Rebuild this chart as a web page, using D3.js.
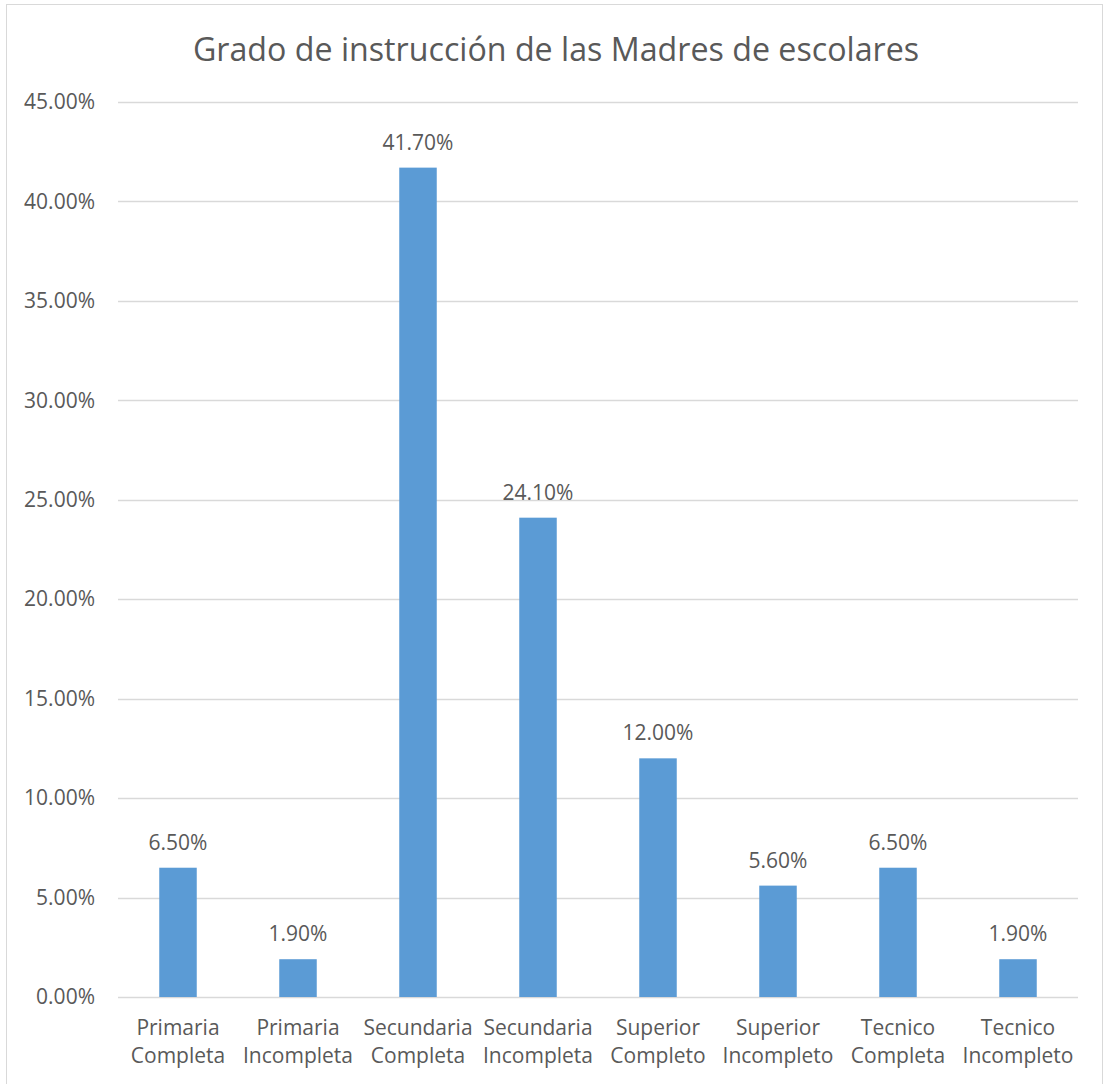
<!DOCTYPE html>
<html><head><meta charset="utf-8">
<script src="https://cdn.jsdelivr.net/npm/d3@7"></script>
<style>
html,body{margin:0;padding:0;background:#fff;}
svg{display:block;}
text{font-family:"Open Sans",sans-serif;fill:#595959;}
</style></head>
<body>
<script>
const title = "Grado de instrucción de las Madres de escolares";
const categories = [
  ["Primaria","Completa"],["Primaria","Incompleta"],["Secundaria","Completa"],["Secundaria","Incompleta"],
  ["Superior","Completo"],["Superior","Incompleto"],["Tecnico","Completa"],["Tecnico","Incompleto"]
];
const values = [6.5, 1.9, 41.7, 24.1, 12.0, 5.6, 6.5, 1.9];
const yTicks = [0,5,10,15,20,25,30,35,40,45];

const W = 1104, H = 1084;
const svg = d3.select("body").append("svg").attr("width", W).attr("height", H);
svg.append("rect").attr("x",6.5).attr("y",4.5).attr("width",1096).attr("height",1090)
  .attr("fill","#fff").attr("stroke","#d9d9d9").attr("stroke-width",1);

const x0 = 118, x1 = 1078, yTop = 102, yBot = 997;
const x = d3.scaleBand().domain(d3.range(categories.length)).range([x0,x1]).paddingInner(0.6875).paddingOuter(0.34375);
const y = d3.scaleLinear().domain([0,45]).range([yBot,yTop]);

svg.append("text").attr("x",556).attr("y",61).attr("text-anchor","middle")
  .style("font-size","32.2px").text(title);

const grid = svg.append("g");
grid.selectAll("line").data(yTicks).join("line")
  .attr("x1",x0).attr("x2",x1).attr("y1",d=>Math.round(y(d))+0.5).attr("y2",d=>Math.round(y(d))+0.5)
  .attr("stroke","#d9d9d9").attr("stroke-width",1.3);

const yAxis = d3.axisLeft(y).tickValues(yTicks).tickSize(0).tickPadding(0).tickFormat(d=>d.toFixed(2)+"%");
const ya = svg.append("g").attr("transform",`translate(${95},0)`).call(yAxis);
ya.select(".domain").remove();
ya.selectAll("text").style("font-size","21px").style("font-family","'Open Sans',sans-serif").attr("fill","#595959");

svg.append("g").selectAll("rect").data(values).join("rect")
  .attr("x",(d,i)=>x(i)).attr("width",x.bandwidth())
  .attr("y",d=>y(d)).attr("height",d=>yBot-y(d)).attr("fill","#5b9bd5");

svg.append("g").selectAll("text").data(values).join("text")
  .attr("x",(d,i)=>x(i)+x.bandwidth()/2).attr("y",d=>y(d)-18)
  .attr("text-anchor","middle").style("font-size","21px")
  .text(d=>d.toFixed(2)+"%");

const cl = svg.append("g").selectAll("text").data(categories).join("text")
  .attr("text-anchor","middle").style("font-size","21px");
cl.each(function(d,i){
  const t = d3.select(this);
  const cx = x(i)+x.bandwidth()/2;
  t.append("tspan").attr("x",cx).attr("y",1035).text(d[0]);
  t.append("tspan").attr("x",cx).attr("y",1063).text(d[1]);
});
</script>
</body></html>
